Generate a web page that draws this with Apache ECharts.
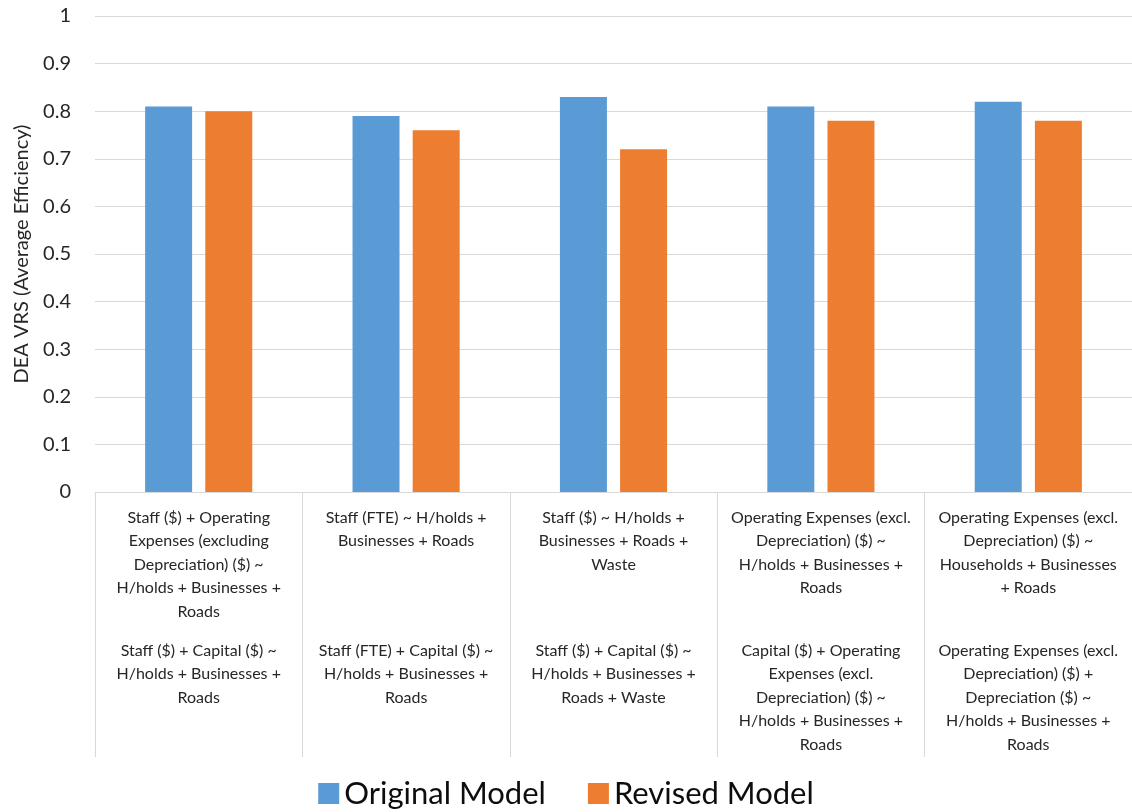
<!DOCTYPE html>
<html>
<head>
<meta charset="utf-8">
<script src="https://cdn.jsdelivr.net/npm/echarts@6/dist/echarts.min.js"></script>
<style>html,body{margin:0;padding:0;background:#fff}#c{width:1132px;height:812px}</style>
</head>
<body>
<div id="c"></div>
<script>
var originalSpecs = [
  "Staff ($) + Operating\nExpenses (excluding\nDepreciation) ($) ~\nH/holds + Businesses +\nRoads",
  "Staff (FTE) ~ H/holds +\nBusinesses + Roads",
  "Staff ($) ~ H/holds +\nBusinesses + Roads +\nWaste",
  "Operating Expenses (excl.\nDepreciation) ($) ~\nH/holds + Businesses +\nRoads",
  "Operating Expenses (excl.\nDepreciation) ($) ~\nHouseholds + Businesses\n+ Roads"
];
var revisedSpecs = [
  "Staff ($) + Capital ($) ~\nH/holds + Businesses +\nRoads",
  "Staff (FTE) + Capital ($) ~\nH/holds + Businesses +\nRoads",
  "Staff ($) + Capital ($) ~\nH/holds + Businesses +\nRoads + Waste",
  "Capital ($) + Operating\nExpenses (excl.\nDepreciation) ($) ~\nH/holds + Businesses +\nRoads",
  "Operating Expenses (excl.\nDepreciation) ($) +\nDepreciation ($) ~\nH/holds + Businesses +\nRoads"
];
var seriesNames = ["Original Model", "Revised Model"];
var originalValues = [0.81, 0.79, 0.83, 0.81, 0.82];
var revisedValues = [0.80, 0.76, 0.72, 0.78, 0.78];
var yAxisTitle = "DEA VRS (Average Efficiency)";

var categories = originalSpecs.map(function (t, i) { return i + ""; });

var FONT = "Lato";
function buildLabel(idx) {
  var i = +idx;
  var top = originalSpecs[i].split("\n");
  var bottom = revisedSpecs[i].split("\n");
  var lines = [];
  for (var k = 0; k < 5; k++) {
    lines.push(k < top.length ? "{t|" + top[k] + "}" : "{t| }");
  }
  lines.push("{g| }");
  bottom.forEach(function (l) { lines.push("{t|" + l + "}"); });
  return lines.join("\n");
}

var chart = echarts.init(document.getElementById("c"), null, { renderer: "canvas" });
chart.setOption({
  animation: false,
  textStyle: { fontFamily: FONT },
  grid: { left: 95, right: 0, top: 16, bottom: 320, containLabel: false },
  legend: {
    top: 778,
    left: "center",
    padding: 0,
    itemWidth: 21,
    itemHeight: 21,
    itemGap: 42,
    icon: "rect",
    textStyle: { fontSize: 31, color: "#0d0d0d", fontFamily: FONT },
    data: seriesNames
  },
  xAxis: {
    type: "category",
    data: categories,
    boundaryGap: true,
    axisLine: { show: true, lineStyle: { color: "#d9d9d9", width: 1 } },
    axisTick: { show: true, interval: 0, length: 265, lineStyle: { color: "#d9d9d9", width: 1 } },
    axisLabel: {
      interval: 0,
      margin: 14,
      verticalAlign: "top",
      formatter: buildLabel,
      rich: {
        t: { fontSize: 16, lineHeight: 23.5, color: "#262626", fontFamily: FONT, align: "center" },
        g: { fontSize: 10, lineHeight: 15.5 }
      }
    }
  },
  yAxis: {
    type: "value",
    min: 0,
    max: 1,
    interval: 0.1,
    name: yAxisTitle,
    nameLocation: "middle",
    nameGap: 63,
    nameTextStyle: { fontSize: 20, color: "#262626", fontFamily: FONT },
    axisLine: { show: false },
    axisTick: { show: false },
    axisLabel: {
      margin: 24,
      fontSize: 20,
      color: "#262626",
      fontFamily: FONT,
      formatter: function (v) { return String(Math.round(v * 10) / 10); }
    },
    splitLine: { show: true, lineStyle: { color: "#d9d9d9", width: 1 } }
  },
  series: [
    { name: seriesNames[0], type: "bar", data: originalValues, barWidth: 47, barGap: "28%", itemStyle: { color: "#5b9bd5" } },
    { name: seriesNames[1], type: "bar", data: revisedValues, barWidth: 47, barGap: "28%", itemStyle: { color: "#ed7d31" } }
  ]
});
</script>
</body>
</html>
